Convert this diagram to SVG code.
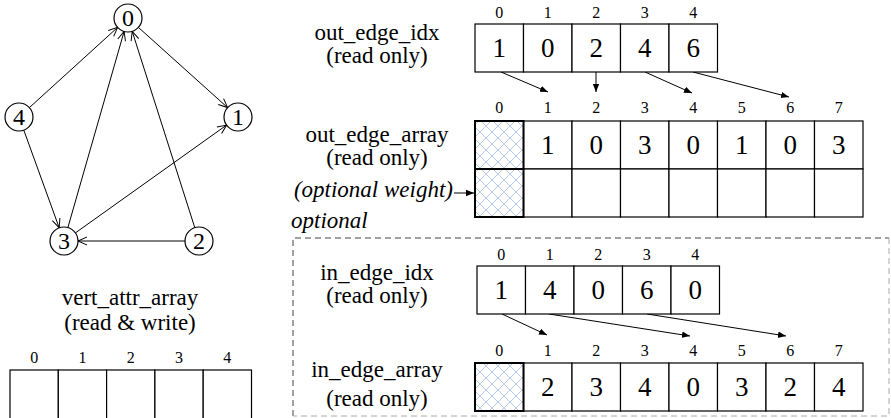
<svg xmlns="http://www.w3.org/2000/svg" width="891" height="418" viewBox="0 0 891 418">
<style>
text{font-family:"Liberation Serif","Times New Roman",serif;fill:#000}
.lbl{font-size:23px;text-anchor:middle}
.idx{font-size:16px;text-anchor:middle}
.val{font-size:27px;text-anchor:middle}
.it{font-size:23px;font-style:italic}
.node{font-size:24px;text-anchor:middle}
.cell{fill:#fff;stroke:#000;stroke-width:1.2}
.hcell{fill:url(#hatch);stroke:#000;stroke-width:2}
.circ{fill:#fff;stroke:#000;stroke-width:1.2}
.edge{stroke:#000;stroke-width:1;fill:none;marker-end:url(#open)}
.ptr{stroke:#000;stroke-width:1;fill:none;marker-end:url(#tri)}
</style>
<defs>
<pattern id="hatch" width="12" height="12" patternUnits="userSpaceOnUse">
<rect width="12" height="12" fill="#fff"/>
<path d="M0,0 L12,12 M12,0 L0,12" stroke="#b9c9ea" stroke-width="1"/>
</pattern>
<marker id="open" viewBox="0 0 10 10" refX="10" refY="5" markerWidth="10" markerHeight="10" markerUnits="userSpaceOnUse" orient="auto">
<path d="M1,1 L10,5 L1,9" fill="none" stroke="#000" stroke-width="1"/>
</marker>
<marker id="tri" viewBox="0 0 10 10" refX="10" refY="5" markerWidth="8" markerHeight="8" markerUnits="userSpaceOnUse" orient="auto">
<path d="M0,1 L10,5 L0,9 Z" fill="#000"/>
</marker>
</defs>

<g id="connectors">
<line class="edge" x1="29.4" y1="107.6" x2="117.6" y2="27.4"/>
<line class="edge" x1="67.9" y1="227.5" x2="124.1" y2="31.5"/>
<line class="edge" x1="194.8" y1="227.7" x2="132.2" y2="31.3"/>
<line class="edge" x1="138.4" y1="27.4" x2="227.6" y2="107.6"/>
<line class="edge" x1="23.8" y1="130.2" x2="59.2" y2="227.8"/>
<line class="edge" x1="75.4" y1="232.9" x2="226.6" y2="125.1"/>
<line class="edge" x1="185" y1="241" x2="78" y2="241"/>
<line class="ptr" x1="501" y1="72" x2="548" y2="92"/>
<line class="ptr" x1="596" y1="72" x2="596" y2="92"/>
<line class="ptr" x1="645" y1="72" x2="692" y2="93"/>
<line class="ptr" x1="693" y1="72" x2="789" y2="97"/>
<line class="ptr" x1="454" y1="193" x2="474" y2="193"/>
<line class="ptr" x1="502" y1="314" x2="547" y2="335"/>
<line class="ptr" x1="549" y1="314" x2="690" y2="336"/>
<line class="ptr" x1="647" y1="314" x2="786" y2="336"/>
</g>

<g id="node-0"><circle class="circ" cx="128" cy="18" r="14"/><text class="node" x="128" y="26">0</text></g>
<g id="node-1"><circle class="circ" cx="238" cy="117" r="14"/><text class="node" x="238" y="125">1</text></g>
<g id="node-2"><circle class="circ" cx="199" cy="241" r="14"/><text class="node" x="199" y="249">2</text></g>
<g id="node-3"><circle class="circ" cx="64" cy="241" r="14"/><text class="node" x="64" y="249">3</text></g>
<g id="node-4"><circle class="circ" cx="19" cy="117" r="14"/><text class="node" x="19" y="125">4</text></g>

<g id="optional-box">
<path d="M293,416 L293,238 L889,238" fill="none" stroke="#444" stroke-width="1" stroke-dasharray="6,4"/>
<path d="M889,238 L889,416 L293,416" fill="none" stroke="#aaa" stroke-width="1" stroke-dasharray="6,4"/>
<text class="it" x="291" y="228">optional</text>
</g>

<g id="out_edge_idx">
<text class="lbl" x="377" y="40">out_edge_idx</text>
<text class="lbl" x="377" y="63">(read only)</text>
<rect class="cell" x="475" y="24" width="48.5" height="48"/>
<rect class="cell" x="523.5" y="24" width="48.5" height="48"/>
<rect class="cell" x="572" y="24" width="48.5" height="48"/>
<rect class="cell" x="620.5" y="24" width="48.5" height="48"/>
<rect class="cell" x="669" y="24" width="48.5" height="48"/>
<text class="idx" x="499.25" y="18">0</text><text class="idx" x="547.75" y="18">1</text><text class="idx" x="596.25" y="18">2</text><text class="idx" x="644.75" y="18">3</text><text class="idx" x="693.25" y="18">4</text>
<text class="val" x="499.25" y="57">1</text><text class="val" x="547.75" y="57">0</text><text class="val" x="596.25" y="57">2</text><text class="val" x="644.75" y="57">4</text><text class="val" x="693.25" y="57">6</text>
</g>

<g id="out_edge_array">
<text class="lbl" x="377" y="142">out_edge_array</text>
<text class="lbl" x="377" y="165">(read only)</text>
<text class="it" x="453" y="197" text-anchor="end">(optional weight)</text>
<rect class="cell" x="523.5" y="121" width="48.5" height="48"/>
<rect class="cell" x="572" y="121" width="48.5" height="48"/>
<rect class="cell" x="620.5" y="121" width="48.5" height="48"/>
<rect class="cell" x="669" y="121" width="48.5" height="48"/>
<rect class="cell" x="717.5" y="121" width="48.5" height="48"/>
<rect class="cell" x="766" y="121" width="48.5" height="48"/>
<rect class="cell" x="814.5" y="121" width="48.5" height="48"/>
<rect class="cell" x="523.5" y="169" width="48.5" height="48"/>
<rect class="cell" x="572" y="169" width="48.5" height="48"/>
<rect class="cell" x="620.5" y="169" width="48.5" height="48"/>
<rect class="cell" x="669" y="169" width="48.5" height="48"/>
<rect class="cell" x="717.5" y="169" width="48.5" height="48"/>
<rect class="cell" x="766" y="169" width="48.5" height="48"/>
<rect class="cell" x="814.5" y="169" width="48.5" height="48"/>
<rect class="hcell" x="475" y="121" width="48.5" height="48"/>
<rect class="hcell" x="475" y="169" width="48.5" height="48"/>
<text class="idx" x="499.25" y="113">0</text><text class="idx" x="547.75" y="113">1</text><text class="idx" x="596.25" y="113">2</text><text class="idx" x="644.75" y="113">3</text><text class="idx" x="693.25" y="113">4</text><text class="idx" x="741.75" y="113">5</text><text class="idx" x="790.25" y="113">6</text><text class="idx" x="838.75" y="113">7</text>
<text class="val" x="547.75" y="154">1</text><text class="val" x="596.25" y="154">0</text><text class="val" x="644.75" y="154">3</text><text class="val" x="693.25" y="154">0</text><text class="val" x="741.75" y="154">1</text><text class="val" x="790.25" y="154">0</text><text class="val" x="838.75" y="154">3</text>
</g>

<g id="in_edge_idx">
<text class="lbl" x="377" y="280">in_edge_idx</text>
<text class="lbl" x="377" y="303">(read only)</text>
<rect class="cell" x="477" y="266" width="48.5" height="48"/>
<rect class="cell" x="525.5" y="266" width="48.5" height="48"/>
<rect class="cell" x="574" y="266" width="48.5" height="48"/>
<rect class="cell" x="622.5" y="266" width="48.5" height="48"/>
<rect class="cell" x="671" y="266" width="48.5" height="48"/>
<text class="idx" x="501.25" y="260">0</text><text class="idx" x="549.75" y="260">1</text><text class="idx" x="598.25" y="260">2</text><text class="idx" x="646.75" y="260">3</text><text class="idx" x="695.25" y="260">4</text>
<text class="val" x="501.25" y="299">1</text><text class="val" x="549.75" y="299">4</text><text class="val" x="598.25" y="299">0</text><text class="val" x="646.75" y="299">6</text><text class="val" x="695.25" y="299">0</text>
</g>

<g id="in_edge_array">
<text class="lbl" x="377" y="377">in_edge_array</text>
<text class="lbl" x="377" y="406">(read only)</text>
<rect class="cell" x="523.5" y="363" width="48.5" height="48"/>
<rect class="cell" x="572" y="363" width="48.5" height="48"/>
<rect class="cell" x="620.5" y="363" width="48.5" height="48"/>
<rect class="cell" x="669" y="363" width="48.5" height="48"/>
<rect class="cell" x="717.5" y="363" width="48.5" height="48"/>
<rect class="cell" x="766" y="363" width="48.5" height="48"/>
<rect class="cell" x="814.5" y="363" width="48.5" height="48"/>
<rect class="hcell" x="475" y="363" width="48.5" height="48"/>
<text class="idx" x="499.25" y="356">0</text><text class="idx" x="547.75" y="356">1</text><text class="idx" x="596.25" y="356">2</text><text class="idx" x="644.75" y="356">3</text><text class="idx" x="693.25" y="356">4</text><text class="idx" x="741.75" y="356">5</text><text class="idx" x="790.25" y="356">6</text><text class="idx" x="838.75" y="356">7</text>
<text class="val" x="547.75" y="396">2</text><text class="val" x="596.25" y="396">3</text><text class="val" x="644.75" y="396">4</text><text class="val" x="693.25" y="396">0</text><text class="val" x="741.75" y="396">3</text><text class="val" x="790.25" y="396">2</text><text class="val" x="838.75" y="396">4</text>
</g>

<g id="vert_attr_array">
<text class="lbl" x="130" y="305">vert_attr_array</text>
<text class="lbl" x="130" y="330">(read &amp; write)</text>
<rect class="cell" x="10" y="370" width="48.3" height="50"/>
<rect class="cell" x="58.3" y="370" width="48.3" height="50"/>
<rect class="cell" x="106.6" y="370" width="48.3" height="50"/>
<rect class="cell" x="154.9" y="370" width="48.3" height="50"/>
<rect class="cell" x="203.2" y="370" width="48.3" height="50"/>
<text class="idx" x="34.15" y="363">0</text><text class="idx" x="82.45" y="363">1</text><text class="idx" x="130.75" y="363">2</text><text class="idx" x="179.05" y="363">3</text><text class="idx" x="227.35" y="363">4</text>
</g>
</svg>
